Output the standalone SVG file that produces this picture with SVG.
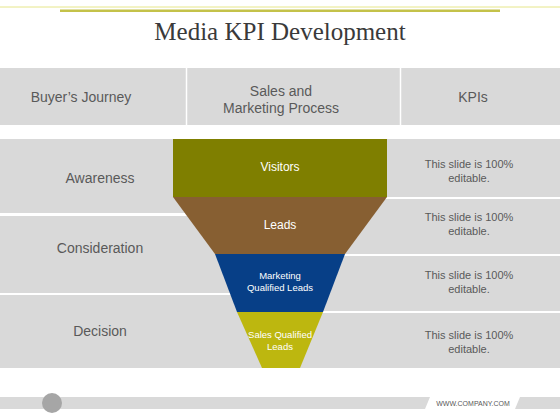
<svg xmlns="http://www.w3.org/2000/svg" width="560" height="420" viewBox="0 0 560 420">
<style>
.cell{fill:#d9d9d9}
.t{font-family:"Liberation Sans",Arial,sans-serif;fill:#595959;text-anchor:middle}
.h{font-size:14px}
.k{font-size:11px}
.f{font-family:"Liberation Sans",Arial,sans-serif;fill:#ffffff;text-anchor:middle}
</style>
<rect width="560" height="420" fill="#ffffff"/>
<line x1="0" y1="7" x2="560" y2="7" stroke="#e6e68a" stroke-width="1"/>
<line x1="60" y1="10.7" x2="500" y2="10.7" stroke="#c4c24a" stroke-width="2.5"/>
<text x="280" y="40" font-family="'Liberation Serif','Times New Roman',serif" font-size="25" fill="#3a3a3a" text-anchor="middle">Media KPI Development</text>

<g id="header">
<rect class="cell" x="0" y="68" width="560" height="57"/>
<line x1="186.5" y1="68" x2="186.5" y2="125" stroke="#ffffff" stroke-width="1.5"/>
<line x1="400.5" y1="68" x2="400.5" y2="125" stroke="#ffffff" stroke-width="1.5"/>
<text class="t h" x="81" y="102">Buyer’s Journey</text>
<text class="t h" x="281" y="96">Sales and</text>
<text class="t h" x="281" y="113">Marketing Process</text>
<text class="t h" x="473" y="102">KPIs</text>
</g>

<g id="journey-awareness"><rect class="cell" x="0" y="139" width="280" height="74"/><text class="t h" x="100" y="183">Awareness</text></g>
<g id="journey-consideration"><rect class="cell" x="0" y="216" width="280" height="77"/><text class="t h" x="100" y="253">Consideration</text></g>
<g id="journey-decision"><rect class="cell" x="0" y="295" width="280" height="73"/><text class="t h" x="100" y="336">Decision</text></g>

<g id="kpi-1"><rect class="cell" x="280" y="139" width="280" height="58"/><text class="t k" x="469" y="168">This slide is 100%</text><text class="t k" x="469" y="182">editable.</text></g>
<g id="kpi-2"><rect class="cell" x="280" y="199" width="280" height="55"/><text class="t k" x="469" y="221">This slide is 100%</text><text class="t k" x="469" y="235">editable.</text></g>
<g id="kpi-3"><rect class="cell" x="280" y="256" width="280" height="55"/><text class="t k" x="469" y="279">This slide is 100%</text><text class="t k" x="469" y="293">editable.</text></g>
<g id="kpi-4"><rect class="cell" x="280" y="313" width="280" height="55"/><text class="t k" x="469" y="339">This slide is 100%</text><text class="t k" x="469" y="353">editable.</text></g>

<g id="funnel-visitors"><rect x="173" y="139" width="214" height="58" fill="#7f7f00"/><text class="f" x="280" y="171" font-size="12">Visitors</text></g>
<g id="funnel-leads"><polygon points="173,197 387,197 345,254 215,254" fill="#875f32"/><text class="f" x="280" y="229" font-size="12">Leads</text></g>
<g id="funnel-mql"><polygon points="215,254 345,254 323,312 237,312" fill="#073f87"/><text class="f" x="280" y="279" font-size="9.5">Marketing</text><text class="f" x="280" y="291" font-size="9.5">Qualified Leads</text></g>
<g id="funnel-sql"><polygon points="237,312 323,312 300,368 262,368" fill="#bdb70f"/><text class="f" x="280" y="338" font-size="9.5" fill="#f7f5d8">Sales Qualified</text><text class="f" x="280" y="350" font-size="9.5" fill="#f7f5d8">Leads</text></g>

<g id="footer">
<polygon points="0,397 430,397 425,409 0,409" fill="#d9d9d9"/>
<polygon points="520,397 560,397 560,409 515,409" fill="#d9d9d9"/>
<circle cx="52" cy="403" r="10" fill="#a6a6a6"/>
<text class="t" x="473" y="406" font-size="7">WWW.COMPANY.COM</text>
</g>
</svg>
